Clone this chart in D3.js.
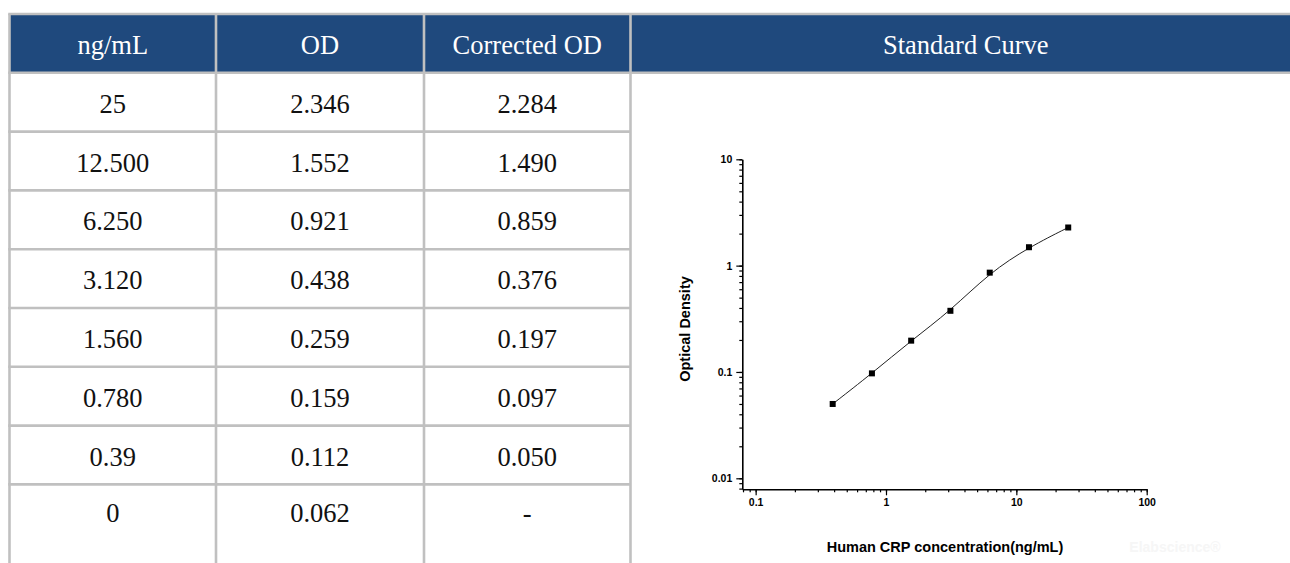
<!DOCTYPE html>
<html>
<head>
<meta charset="utf-8">
<script src="https://cdn.jsdelivr.net/npm/d3@7"></script>
<style>
    html, body { margin: 0; padding: 0; background: #fff; overflow: hidden; }
</style>
</head>
<body>
<script>
// Table data.
var headers = ["ng/mL", "OD", "Corrected OD", "Standard Curve"];
var concentrations = ["25", "12.500", "6.250", "3.120", "1.560", "0.780", "0.39", "0"];
var odValues = ["2.346", "1.552", "0.921", "0.438", "0.259", "0.159", "0.112", "0.062"];
var correctedOd = ["2.284", "1.490", "0.859", "0.376", "0.197", "0.097", "0.050", "-"];

// Curve data (standards, corrected OD).
var curveX = [0.39, 0.78, 1.56, 3.12, 6.25, 12.5, 25];
var curveY = [0.050, 0.097, 0.197, 0.376, 0.859, 1.490, 2.284];

// Axis ticks.
var xMajorTicks = [0.1, 1, 10, 100];
var xTickLabels = ["0.1", "1", "10", "100"];
var yMajorTicks = [0.01, 0.1, 1, 10];
var yTickLabels = ["0.01", "0.1", "1", "10"];

// Layout.
var width = 1290, height = 563;
var colEdges = [9.5, 216, 424, 630.5, 1301];
var tableTop = 14, headerH = 58.8, rowH = 58.8;
var borderColor = "#c0c0c0", headerColor = "#1f497d";
var serif = "'Liberation Serif', 'Times New Roman', serif";
var sans = "'Liberation Sans', Arial, sans-serif";

var svg = d3.select("body").append("svg")
        .attr("width", width)
        .attr("height", height);

// Header band.
svg.append("rect")
        .attr("x", colEdges[0])
        .attr("y", tableTop)
        .attr("width", colEdges[4] - colEdges[0])
        .attr("height", headerH)
        .style("fill", headerColor);

svg.selectAll("text.head")
        .data(headers)
        .enter().append("text")
        .attr("class", "head")
        .attr("x", function(d, i) { return (colEdges[i] + colEdges[i + 1]) / 2; })
        .attr("y", tableTop + headerH / 2 + 10.5)
        .attr("text-anchor", "middle")
        .style("font-family", serif)
        .style("font-size", "26.5px")
        .style("fill", "#fff")
        .text(function(d) { return d; });

// Body rows.
var bodyTop = tableTop + headerH;
var rows = concentrations.map(function(c, i) { return [c, odValues[i], correctedOd[i]]; });
var rowMid = function(i) {
    return i < rows.length - 1 ? bodyTop + rowH * (i + 0.5) : bodyTop + rowH * i + 27;
};

rows.forEach(function(row, i) {
    svg.selectAll("text.r" + i)
            .data(row)
            .enter().append("text")
            .attr("class", "r" + i)
            .attr("x", function(d, j) { return (colEdges[j] + colEdges[j + 1]) / 2; })
            .attr("y", rowMid(i) + 10.5)
            .attr("text-anchor", "middle")
            .style("font-family", serif)
            .style("font-size", "26.5px")
            .style("fill", "#111")
            .text(function(d) { return d; });
});

// Grid lines.
var grid = svg.append("g")
        .style("stroke", borderColor)
        .style("stroke-width", 2.6);
grid.append("line")
        .attr("x1", colEdges[0] - 1.3).attr("x2", colEdges[4])
        .attr("y1", tableTop).attr("y2", tableTop);
grid.append("line")
        .attr("x1", colEdges[0] - 1.3).attr("x2", colEdges[4])
        .attr("y1", bodyTop).attr("y2", bodyTop);
d3.range(1, rows.length).forEach(function(i) {
    grid.append("line")
            .attr("x1", colEdges[0] - 1.3).attr("x2", colEdges[3])
            .attr("y1", bodyTop + rowH * i).attr("y2", bodyTop + rowH * i);
});
colEdges.slice(0, 4).forEach(function(x) {
    grid.append("line")
            .attr("x1", x).attr("x2", x)
            .attr("y1", tableTop).attr("y2", height + 5);
});

// Chart scales.
var x = d3.scaleLog().domain([0.079, 100]).range([742.3, 1146.7]);
var y = d3.scaleLog().domain([0.00788, 10]).range([489.3, 159.3]);

var chart = svg.append("g");

// Minor ticks.
chart.append("g")
        .attr("transform", "translate(0," + y.range()[0] + ")")
        .call(d3.axisBottom(x).tickValues(x.ticks()).tickSize(3).tickFormat(""))
        .call(function(g) { g.select(".domain").remove(); });
chart.append("g")
        .attr("transform", "translate(" + x.range()[0] + ",0)")
        .call(d3.axisLeft(y).tickValues(y.ticks()).tickSize(3).tickFormat(""))
        .call(function(g) { g.select(".domain").remove(); });

// Major ticks and labels.
var xAxis = chart.append("g")
        .attr("transform", "translate(0," + y.range()[0] + ")")
        .call(d3.axisBottom(x).tickValues(xMajorTicks).tickSize(6).tickSizeOuter(0)
            .tickFormat(function(d, i) { return xTickLabels[i]; }));
var yAxis = chart.append("g")
        .attr("transform", "translate(" + x.range()[0] + ",0)")
        .call(d3.axisLeft(y).tickValues(yMajorTicks).tickSize(6).tickSizeOuter(0)
            .tickFormat(function(d, i) { return yTickLabels[i]; }));

chart.selectAll(".tick line").style("stroke", "#000").style("stroke-width", 1.2);
chart.selectAll(".domain").style("stroke", "#000").style("stroke-width", 1.6);
chart.selectAll(".tick text")
        .style("font-family", sans)
        .style("font-weight", "bold")
        .style("font-size", "10.5px")
        .style("fill", "#000");
xAxis.selectAll(".tick text").attr("dy", "0.71em").attr("y", 9);
yAxis.selectAll(".tick text").attr("x", -10);

// Fitted curve (smoothing B-spline over the standards).
var line = d3.line()
        .x(function(d) { return x(d[0]); })
        .y(function(d) { return y(d[1]); })
        .curve(d3.curveBasis);
var pts = curveX.map(function(v, i) { return [v, curveY[i]]; });
chart.append("path")
        .datum(pts)
        .attr("d", line)
        .style("fill", "none")
        .style("stroke", "#222")
        .style("stroke-width", 1);

// Points.
chart.selectAll("rect.pt")
        .data(pts)
        .enter().append("rect")
        .attr("class", "pt")
        .attr("x", function(d) { return x(d[0]) - 3; })
        .attr("y", function(d) { return y(d[1]) - 3; })
        .attr("width", 6)
        .attr("height", 6)
        .style("fill", "#000");

// Axis titles.
chart.append("text")
        .attr("x", 945)
        .attr("y", 552)
        .attr("text-anchor", "middle")
        .style("font-family", sans)
        .style("font-weight", "bold")
        .style("font-size", "14.5px")
        .text("Human CRP concentration(ng/mL)");
chart.append("text")
        .attr("transform", "translate(690,329) rotate(-90)")
        .attr("text-anchor", "middle")
        .style("font-family", sans)
        .style("font-weight", "bold")
        .style("font-size", "14.5px")
        .text("Optical Density");

// Faint watermark.
chart.append("text")
        .attr("x", 1175)
        .attr("y", 552)
        .attr("text-anchor", "middle")
        .style("font-family", sans)
        .style("font-weight", "bold")
        .style("font-size", "14px")
        .style("fill", "#f6f6f6")
        .text("Elabscience®");
</script>
</body>
</html>
